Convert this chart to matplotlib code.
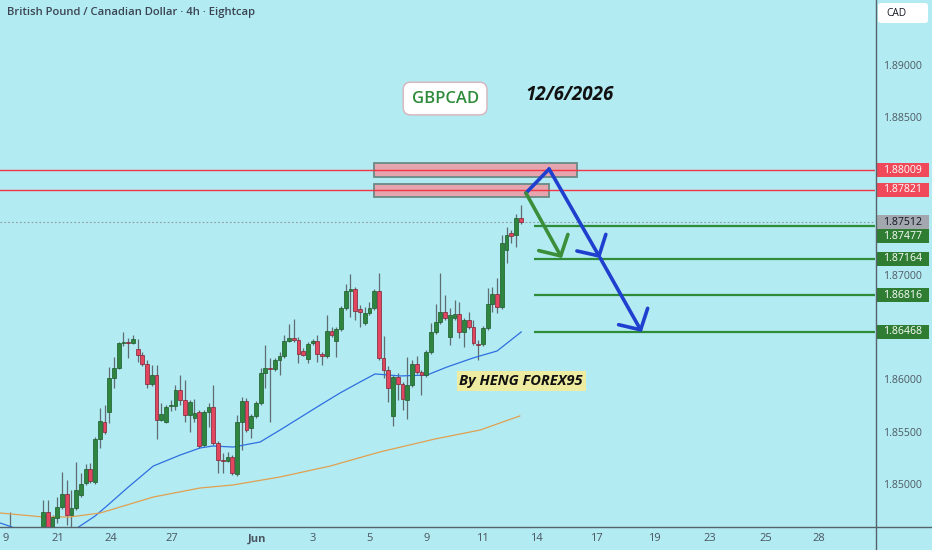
import numpy as np
import matplotlib.pyplot as plt
from matplotlib.patches import Rectangle, FancyBboxPatch
from matplotlib.transforms import blended_transform_factory

plt.rcParams['font.family'] = ['Open Sans', 'DejaVu Sans']

# --- du lieu nen 4h GBPCAD (doc tu anh) ---
bar_idx = list(range(-9, 102))
opens = [1.84480, 1.84510, 1.84470, 1.84520, 1.84460, 1.84430, 1.84480, 1.84500, 1.84490,
         1.84533, 1.84752, 1.84581, 1.84695, 1.84800, 1.84924, 1.84724, 1.84790, 1.84914, 1.85029,
         1.85162, 1.85038, 1.85448, 1.85610, 1.85705, 1.86029, 1.86124, 1.86362, 1.86371, 1.86362,
         1.86305, 1.86248, 1.86162, 1.85971, 1.86057, 1.85629, 1.85610, 1.85762, 1.85762, 1.85914,
         1.85819, 1.85676, 1.85648, 1.85705, 1.85390, 1.85705, 1.85752, 1.85410, 1.85248, 1.85238,
         1.85276, 1.85114, 1.85610, 1.85810, 1.85552, 1.85667, 1.85790, 1.86076, 1.86124, 1.86114,
         1.86200, 1.86238, 1.86381, 1.86410, 1.86390, 1.86286, 1.86210, 1.86362, 1.86381, 1.86257,
         1.86238, 1.86476, 1.86381, 1.86495, 1.86695, 1.86857, 1.86876, 1.86686, 1.86552, 1.86648,
         1.86695, 1.86857, 1.86219, 1.86105, 1.85667, 1.86038, 1.85971, 1.85819, 1.85962, 1.86162,
         1.86086, 1.86057, 1.86276, 1.86467, 1.86562, 1.86657, 1.86419, 1.86600, 1.86638, 1.86467,
         1.86581, 1.86514, 1.86352, 1.86352, 1.86505, 1.86733, 1.86829, 1.86705, 1.87248, 1.87410,
         1.87390, 1.87552]
highs = [1.84540, 1.84560, 1.84752, 1.84570, 1.84520, 1.84500, 1.84540, 1.84560, 1.84540,
         1.84867, 1.84867, 1.84724, 1.84895, 1.85133, 1.85057, 1.84962, 1.85229, 1.85124, 1.85210,
         1.85219, 1.85467, 1.85743, 1.85771, 1.86133, 1.86229, 1.86371, 1.86467, 1.86410, 1.86438,
         1.86400, 1.86276, 1.86200, 1.86152, 1.86152, 1.85790, 1.85771, 1.85819, 1.85962, 1.86057,
         1.86010, 1.85819, 1.85829, 1.85724, 1.85724, 1.85790, 1.85962, 1.85429, 1.85314, 1.85324,
         1.85295, 1.85676, 1.85848, 1.85838, 1.85686, 1.85810, 1.86124, 1.86343, 1.86219, 1.86219,
         1.86276, 1.86438, 1.86543, 1.86590, 1.86419, 1.86314, 1.86371, 1.86400, 1.86438, 1.86276,
         1.86629, 1.86514, 1.86514, 1.86714, 1.86924, 1.87019, 1.86895, 1.86724, 1.86705, 1.86752,
         1.86876, 1.87029, 1.86429, 1.86143, 1.86057, 1.86076, 1.85990, 1.86229, 1.86200, 1.86238,
         1.86105, 1.86295, 1.86552, 1.86733, 1.87029, 1.86819, 1.86695, 1.86771, 1.86752, 1.86600,
         1.86657, 1.86581, 1.86390, 1.86524, 1.86886, 1.86895, 1.86981, 1.87390, 1.87467, 1.87438,
         1.87590, 1.87676]
lows = [1.84420, 1.84450, 1.84430, 1.84440, 1.84400, 1.84380, 1.84420, 1.84440, 1.84430,
        1.84486, 1.84486, 1.84533, 1.84648, 1.84781, 1.84629, 1.84581, 1.84771, 1.84895, 1.85010,
        1.85029, 1.85019, 1.85362, 1.85495, 1.85600, 1.85933, 1.86114, 1.86333, 1.86219, 1.86352,
        1.86181, 1.86143, 1.85933, 1.85952, 1.85448, 1.85619, 1.85600, 1.85714, 1.85724, 1.85771,
        1.85610, 1.85514, 1.85610, 1.85362, 1.85371, 1.85562, 1.85390, 1.85124, 1.85124, 1.85229,
        1.85105, 1.85095, 1.85343, 1.85514, 1.85457, 1.85648, 1.85771, 1.85933, 1.85610, 1.86095,
        1.86057, 1.86219, 1.86371, 1.86371, 1.86171, 1.86238, 1.86171, 1.86343, 1.86181, 1.86152,
        1.86219, 1.86419, 1.86229, 1.86476, 1.86676, 1.86610, 1.86581, 1.86514, 1.86533, 1.86629,
        1.86676, 1.86200, 1.86029, 1.85800, 1.85571, 1.85819, 1.85724, 1.85638, 1.85943, 1.86067,
        1.85867, 1.86038, 1.86257, 1.86448, 1.86543, 1.86581, 1.86343, 1.86581, 1.86410, 1.86324,
        1.86495, 1.86343, 1.86200, 1.86333, 1.86486, 1.86657, 1.86648, 1.86686, 1.87124, 1.87314,
        1.87276, 1.87495]
closes = [1.84510, 1.84470, 1.84520, 1.84460, 1.84430, 1.84480, 1.84500, 1.84490, 1.84533,
          1.84752, 1.84533, 1.84705, 1.84800, 1.84924, 1.84724, 1.84790, 1.84962, 1.85019, 1.85162,
          1.85048, 1.85448, 1.85619, 1.85514, 1.86029, 1.86124, 1.86362, 1.86371, 1.86362, 1.86400,
          1.86248, 1.86162, 1.85971, 1.86057, 1.85629, 1.85686, 1.85752, 1.85771, 1.85914, 1.85819,
          1.85676, 1.85800, 1.85695, 1.85381, 1.85705, 1.85752, 1.85410, 1.85248, 1.85238, 1.85276,
          1.85124, 1.85610, 1.85810, 1.85533, 1.85667, 1.85790, 1.86076, 1.86124, 1.86114, 1.86200,
          1.86238, 1.86381, 1.86410, 1.86390, 1.86257, 1.86248, 1.86352, 1.86381, 1.86257, 1.86238,
          1.86476, 1.86438, 1.86495, 1.86695, 1.86857, 1.86876, 1.86667, 1.86657, 1.86648, 1.86695,
          1.86857, 1.86219, 1.86105, 1.85933, 1.86038, 1.85971, 1.85829, 1.85962, 1.86162, 1.86086,
          1.86057, 1.86276, 1.86467, 1.86562, 1.86657, 1.86600, 1.86629, 1.86638, 1.86467, 1.86581,
          1.86514, 1.86362, 1.86343, 1.86505, 1.86733, 1.86829, 1.86705, 1.87314, 1.87390, 1.87381,
          1.87552, 1.87514]

# duong trung binh (xanh duong va cam)
ma_fast_x = [-9.1, -6.6, -0.6, 7.2, 11.0, 13.5, 17.8, 23.3, 29.0, 33.2, 35.9, 40.2, 45.9,
             50.1, 58.6, 62.8, 67.0, 70.2, 75.5, 81.2, 85.4, 90.9, 96.0, 101.1]
ma_fast = [1.84648, 1.84610, 1.84438, 1.84600, 1.84714, 1.84810, 1.84981, 1.85190, 1.85295,
           1.85362, 1.85381, 1.85371, 1.85419, 1.85533, 1.85771, 1.85886, 1.85990, 1.86067,
           1.86048, 1.86057, 1.86133, 1.86219, 1.86286, 1.86467]
ma_slow_x = [-9.1, 0.0, 5.7, 12.1, 20.5, 23.3, 33.2, 40.2, 50.1, 60.7, 71.2, 82.9, 92.4, 100.8]
ma_slow = [1.84743, 1.84705, 1.84705, 1.84743, 1.84857, 1.84895, 1.84981, 1.85010, 1.85086,
           1.85190, 1.85324, 1.85448, 1.85533, 1.85667]

# cac muc gia
red_levels = [1.88009, 1.87821]
green_levels = [1.87477, 1.87164, 1.86816, 1.86468]
last_price = 1.87512
green_start = 103.8

# vung khang cu
zone_left = [70.0, 70.0]
zone_right = [112.9, 107.0]
zone_top = [1.88076, 1.87876]
zone_bottom = [1.87943, 1.87752]

# mui ten du bao
blue_path_x = [102.1, 107.0, 117.8, 126.6]
blue_path_y = [1.87790, 1.88019, 1.87171, 1.86467]
green_path_x = [102.1, 109.7]
green_path_y = [1.87790, 1.87171]

# truc thoi gian
date_pos = [-8.0, 3.2, 14.4, 27.3, 45.2, 57.1, 69.1, 81.0, 92.8, 104.4, 117.1, 129.2, 141.0, 152.9, 164.1]
date_labels = ['9', '21', '24', '27', 'Jun', '3', '5', '9', '11', '14', '17', '19', '23', '25', '28']
price_ticks = [1.850, 1.855, 1.860, 1.865, 1.870, 1.875, 1.880, 1.885, 1.890]

BG = '#b2ebf2'
UP = '#2e8540'
DOWN = '#e2475f'

fig = plt.figure(figsize=(9.32, 5.5), dpi=100)
fig.patch.set_facecolor(BG)
ax = fig.add_axes([0, 23 / 550, 875 / 932, 527 / 550])
ax.set_facecolor(BG)
ax.set_xlim(-9.1, 175.9)
ax.set_ylim(1.846095, 1.896286)
for s in ax.spines.values():
    s.set_visible(False)

# nen
x = np.array(bar_idx)
o = np.array(opens)
c = np.array(closes)
up = c >= o
lo = np.minimum(o, c)
h = np.maximum(np.abs(c - o), 0.00004)
ax.vlines(x, lows, highs, color='#5f6d73', lw=0.9, zorder=2)
ax.bar(x[up], h[up], bottom=lo[up], width=0.8, color=UP, edgecolor='#1d5a27', lw=0.5, zorder=3)
ax.bar(x[~up], h[~up], bottom=lo[~up], width=0.8, color=DOWN, edgecolor='#7d2232', lw=0.5, zorder=3)

ax.plot(ma_fast_x, ma_fast, color='#2f6fe0', lw=0.9, zorder=2)
ax.plot(ma_slow_x, ma_slow, color='#e0a050', lw=0.9, zorder=2)

# vung do
for xl, xr, yt, yb in zip(zone_left, zone_right, zone_top, zone_bottom):
    ax.add_patch(Rectangle((xl, yb), xr - xl, yt - yb, facecolor='#e6a4ae', edgecolor='#6b8a86',
                           lw=1.3, zorder=4))

for lv in red_levels:
    ax.axhline(lv, color='#f23645', lw=1.0, zorder=5)
ax.axhline(last_price, color='#8c9ca3', lw=0.8, ls=(0, (1.5, 2)), zorder=1)
for lv in green_levels:
    ax.hlines(lv, green_start, 175.9, color='#2e8b3a', lw=1.6, zorder=5)

# mui ten
arrow_kw = dict(arrowstyle='->,head_length=0.55,head_width=0.6', lw=2.6,
                shrinkA=0, shrinkB=0, mutation_scale=20)
ax.plot(blue_path_x[:2], blue_path_y[:2], color='#1f3fcf', lw=2.6, solid_capstyle='round', zorder=6)
for k in (1, 2):
    ax.annotate('', xy=(blue_path_x[k + 1], blue_path_y[k + 1]), xytext=(blue_path_x[k], blue_path_y[k]),
                arrowprops=dict(color='#1f3fcf', **arrow_kw), zorder=6)
ax.annotate('', xy=(green_path_x[1], green_path_y[1]), xytext=(green_path_x[0], green_path_y[0]),
            arrowprops=dict(color='#3c8f3a', **arrow_kw), zorder=6)

# chu thich
ax.text(85.0, 1.88690, 'GBPCAD', ha='center', va='center', fontsize=12, fontweight='semibold',
        color='#2e8b3a', zorder=7,
        bbox=dict(boxstyle='round,pad=0.5,rounding_size=0.45', fc='white', ec='#d9b3bb', lw=1))
ax.text(111.4, 1.88724, '12/6/2026', ha='center', va='center', fontsize=13.5, fontweight='bold',
        fontstyle='italic', color='#111111', zorder=7)
ax.text(101.1, 1.86000, 'By HENG FOREX95', ha='center', va='center', fontsize=10.5, fontweight='bold',
        fontstyle='italic', color='#111111', zorder=7,
        bbox=dict(boxstyle='square,pad=0.18', fc='#eeeca0', ec='none'))

# truc x
ax.set_xticks(date_pos)
ax.set_xticklabels(date_labels, fontsize=8, color='#4a5560')
ax.get_xticklabels()[4].set_fontweight('bold')
ax.tick_params(axis='x', length=0, pad=4.5)
ax.set_yticks([])

# nhan gia ben phai
trans = blended_transform_factory(ax.transAxes, ax.transData)
tags = [(red_levels[0], '#f04a5a', 'white'), (red_levels[1], '#f04a5a', 'white'),
        (last_price, '#a3a7ae', '#131722')] + [(lv, '#2e7d32', 'white') for lv in green_levels]
tags.sort(key=lambda t: -t[0])
tag_h = 14 / 10500
placed = []
prev = None
for lv, fc, tc in tags:
    y = lv if prev is None or prev - lv >= tag_h else prev - tag_h
    placed.append(y)
    prev = y
    ax.add_patch(Rectangle((1.0011, y - tag_h / 2), 0.0606, tag_h, transform=trans, facecolor=fc,
                           edgecolor='none', clip_on=False, zorder=8))
    ax.text(1.0314, y, f'{lv:.5f}', transform=trans, ha='center', va='center', fontsize=7.6,
            color=tc, clip_on=False, zorder=9)
for p in price_ticks:
    if min(abs(p - y) for y in placed) < 12 / 10500:
        continue
    ax.text(1.0314, p, f'{p:.5f}', transform=trans, ha='center', va='center', fontsize=7.6,
            color='#4f5a64', clip_on=False)

# khung truc
fig.add_artist(plt.Line2D([875.5 / 932, 875.5 / 932], [0, 1], transform=fig.transFigure,
                          color='#56636b', lw=1))
fig.add_artist(plt.Line2D([0, 1], [23 / 550, 23 / 550], transform=fig.transFigure,
                          color='#56636b', lw=1))

# tieu de va o CAD
fig.text(7 / 932, 1 - 13 / 550, 'British Pound / Canadian Dollar · 4h · Eightcap', ha='left', va='center',
         fontsize=8.1, fontweight='semibold', color='#3b4452')
fig.add_artist(FancyBboxPatch((878 / 932, 1 - 23 / 550), 50 / 932, 20 / 550,
                              boxstyle='round,pad=0,rounding_size=0.004', transform=fig.transFigure,
                              fc='white', ec='none'))
fig.text(886 / 932, 1 - 13 / 550, 'CAD', ha='left', va='center', fontsize=7.3, color='#131722')

fig.savefig('out.png', dpi=100, facecolor=BG)
